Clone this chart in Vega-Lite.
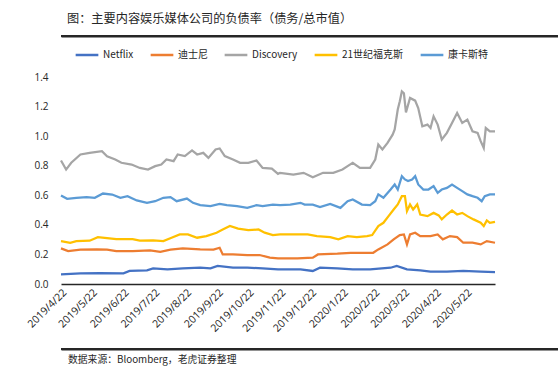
{
  "$schema": "https://vega.github.io/schema/vega-lite/v6.json",
  "background": "white",
  "padding": {"left": 7, "right": 5, "top": 12, "bottom": 5},
  "columns": 1,
  "align": "none",
  "spacing": 5,
  "resolve": {"scale": {"color": "independent"}, "legend": {"color": "independent"}},
  "config": {
    "view": {"stroke": null},
    "font": "Noto Sans CJK SC"
  },
  "datasets": {
    "series": [
      {"date": "2019-04-22", "company": "Netflix", "ratio": 0.065},
      {"date": "2019-05-11", "company": "Netflix", "ratio": 0.072},
      {"date": "2019-05-30", "company": "Netflix", "ratio": 0.074},
      {"date": "2019-06-22", "company": "Netflix", "ratio": 0.072},
      {"date": "2019-06-28", "company": "Netflix", "ratio": 0.088},
      {"date": "2019-07-15", "company": "Netflix", "ratio": 0.092},
      {"date": "2019-07-21", "company": "Netflix", "ratio": 0.106},
      {"date": "2019-08-04", "company": "Netflix", "ratio": 0.099},
      {"date": "2019-08-19", "company": "Netflix", "ratio": 0.106},
      {"date": "2019-09-05", "company": "Netflix", "ratio": 0.110},
      {"date": "2019-09-15", "company": "Netflix", "ratio": 0.106},
      {"date": "2019-09-22", "company": "Netflix", "ratio": 0.122},
      {"date": "2019-10-07", "company": "Netflix", "ratio": 0.110},
      {"date": "2019-10-21", "company": "Netflix", "ratio": 0.110},
      {"date": "2019-11-05", "company": "Netflix", "ratio": 0.106},
      {"date": "2019-11-20", "company": "Netflix", "ratio": 0.099},
      {"date": "2019-12-12", "company": "Netflix", "ratio": 0.099},
      {"date": "2019-12-24", "company": "Netflix", "ratio": 0.088},
      {"date": "2019-12-31", "company": "Netflix", "ratio": 0.110},
      {"date": "2020-01-17", "company": "Netflix", "ratio": 0.106},
      {"date": "2020-02-01", "company": "Netflix", "ratio": 0.099},
      {"date": "2020-02-18", "company": "Netflix", "ratio": 0.099},
      {"date": "2020-03-09", "company": "Netflix", "ratio": 0.110},
      {"date": "2020-03-15", "company": "Netflix", "ratio": 0.122},
      {"date": "2020-03-25", "company": "Netflix", "ratio": 0.099},
      {"date": "2020-04-07", "company": "Netflix", "ratio": 0.092},
      {"date": "2020-04-17", "company": "Netflix", "ratio": 0.083},
      {"date": "2020-05-03", "company": "Netflix", "ratio": 0.083},
      {"date": "2020-05-19", "company": "Netflix", "ratio": 0.088},
      {"date": "2020-06-05", "company": "Netflix", "ratio": 0.083},
      {"date": "2020-06-19", "company": "Netflix", "ratio": 0.081},

      {"date": "2019-04-22", "company": "迪士尼", "ratio": 0.241},
      {"date": "2019-04-29", "company": "迪士尼", "ratio": 0.223},
      {"date": "2019-05-11", "company": "迪士尼", "ratio": 0.232},
      {"date": "2019-05-27", "company": "迪士尼", "ratio": 0.234},
      {"date": "2019-06-06", "company": "迪士尼", "ratio": 0.232},
      {"date": "2019-06-15", "company": "迪士尼", "ratio": 0.223},
      {"date": "2019-07-01", "company": "迪士尼", "ratio": 0.223},
      {"date": "2019-07-18", "company": "迪士尼", "ratio": 0.227},
      {"date": "2019-07-28", "company": "迪士尼", "ratio": 0.218},
      {"date": "2019-08-07", "company": "迪士尼", "ratio": 0.232},
      {"date": "2019-08-19", "company": "迪士尼", "ratio": 0.241},
      {"date": "2019-09-05", "company": "迪士尼", "ratio": 0.234},
      {"date": "2019-09-18", "company": "迪士尼", "ratio": 0.232},
      {"date": "2019-09-24", "company": "迪士尼", "ratio": 0.245},
      {"date": "2019-09-27", "company": "迪士尼", "ratio": 0.200},
      {"date": "2019-10-07", "company": "迪士尼", "ratio": 0.200},
      {"date": "2019-10-21", "company": "迪士尼", "ratio": 0.196},
      {"date": "2019-11-02", "company": "迪士尼", "ratio": 0.196},
      {"date": "2019-11-12", "company": "迪士尼", "ratio": 0.178},
      {"date": "2019-11-20", "company": "迪士尼", "ratio": 0.173},
      {"date": "2019-12-09", "company": "迪士尼", "ratio": 0.173},
      {"date": "2019-12-24", "company": "迪士尼", "ratio": 0.178},
      {"date": "2019-12-29", "company": "迪士尼", "ratio": 0.200},
      {"date": "2020-01-17", "company": "迪士尼", "ratio": 0.205},
      {"date": "2020-01-30", "company": "迪士尼", "ratio": 0.211},
      {"date": "2020-02-15", "company": "迪士尼", "ratio": 0.211},
      {"date": "2020-02-21", "company": "迪士尼", "ratio": 0.211},
      {"date": "2020-02-26", "company": "迪士尼", "ratio": 0.234},
      {"date": "2020-03-06", "company": "迪士尼", "ratio": 0.268},
      {"date": "2020-03-12", "company": "迪士尼", "ratio": 0.302},
      {"date": "2020-03-18", "company": "迪士尼", "ratio": 0.331},
      {"date": "2020-03-22", "company": "迪士尼", "ratio": 0.335},
      {"date": "2020-03-25", "company": "迪士尼", "ratio": 0.268},
      {"date": "2020-03-28", "company": "迪士尼", "ratio": 0.335},
      {"date": "2020-04-02", "company": "迪士尼", "ratio": 0.347},
      {"date": "2020-04-07", "company": "迪士尼", "ratio": 0.324},
      {"date": "2020-04-17", "company": "迪士尼", "ratio": 0.324},
      {"date": "2020-04-24", "company": "迪士尼", "ratio": 0.335},
      {"date": "2020-04-29", "company": "迪士尼", "ratio": 0.302},
      {"date": "2020-05-06", "company": "迪士尼", "ratio": 0.324},
      {"date": "2020-05-13", "company": "迪士尼", "ratio": 0.317},
      {"date": "2020-05-19", "company": "迪士尼", "ratio": 0.279},
      {"date": "2020-05-28", "company": "迪士尼", "ratio": 0.279},
      {"date": "2020-06-05", "company": "迪士尼", "ratio": 0.268},
      {"date": "2020-06-11", "company": "迪士尼", "ratio": 0.290},
      {"date": "2020-06-19", "company": "迪士尼", "ratio": 0.279},

      {"date": "2019-04-22", "company": "Discovery", "ratio": 0.835},
      {"date": "2019-04-27", "company": "Discovery", "ratio": 0.774},
      {"date": "2019-05-02", "company": "Discovery", "ratio": 0.820},
      {"date": "2019-05-11", "company": "Discovery", "ratio": 0.876},
      {"date": "2019-05-20", "company": "Discovery", "ratio": 0.887},
      {"date": "2019-06-01", "company": "Discovery", "ratio": 0.898},
      {"date": "2019-06-06", "company": "Discovery", "ratio": 0.864},
      {"date": "2019-06-14", "company": "Discovery", "ratio": 0.842},
      {"date": "2019-06-20", "company": "Discovery", "ratio": 0.820},
      {"date": "2019-06-30", "company": "Discovery", "ratio": 0.808},
      {"date": "2019-07-08", "company": "Discovery", "ratio": 0.785},
      {"date": "2019-07-16", "company": "Discovery", "ratio": 0.774},
      {"date": "2019-07-23", "company": "Discovery", "ratio": 0.797},
      {"date": "2019-07-29", "company": "Discovery", "ratio": 0.808},
      {"date": "2019-08-03", "company": "Discovery", "ratio": 0.842},
      {"date": "2019-08-10", "company": "Discovery", "ratio": 0.831},
      {"date": "2019-08-14", "company": "Discovery", "ratio": 0.876},
      {"date": "2019-08-21", "company": "Discovery", "ratio": 0.865},
      {"date": "2019-08-28", "company": "Discovery", "ratio": 0.903},
      {"date": "2019-09-02", "company": "Discovery", "ratio": 0.876},
      {"date": "2019-09-08", "company": "Discovery", "ratio": 0.887},
      {"date": "2019-09-13", "company": "Discovery", "ratio": 0.853},
      {"date": "2019-09-20", "company": "Discovery", "ratio": 0.910},
      {"date": "2019-09-24", "company": "Discovery", "ratio": 0.917},
      {"date": "2019-09-29", "company": "Discovery", "ratio": 0.865},
      {"date": "2019-10-07", "company": "Discovery", "ratio": 0.842},
      {"date": "2019-10-14", "company": "Discovery", "ratio": 0.820},
      {"date": "2019-10-22", "company": "Discovery", "ratio": 0.820},
      {"date": "2019-10-30", "company": "Discovery", "ratio": 0.835},
      {"date": "2019-11-05", "company": "Discovery", "ratio": 0.785},
      {"date": "2019-11-14", "company": "Discovery", "ratio": 0.780},
      {"date": "2019-11-20", "company": "Discovery", "ratio": 0.745},
      {"date": "2019-11-22", "company": "Discovery", "ratio": 0.752},
      {"date": "2019-12-05", "company": "Discovery", "ratio": 0.740},
      {"date": "2019-12-15", "company": "Discovery", "ratio": 0.752},
      {"date": "2019-12-24", "company": "Discovery", "ratio": 0.722},
      {"date": "2020-01-03", "company": "Discovery", "ratio": 0.752},
      {"date": "2020-01-13", "company": "Discovery", "ratio": 0.752},
      {"date": "2020-01-22", "company": "Discovery", "ratio": 0.774},
      {"date": "2020-01-27", "company": "Discovery", "ratio": 0.797},
      {"date": "2020-02-01", "company": "Discovery", "ratio": 0.820},
      {"date": "2020-02-08", "company": "Discovery", "ratio": 0.785},
      {"date": "2020-02-18", "company": "Discovery", "ratio": 0.785},
      {"date": "2020-02-23", "company": "Discovery", "ratio": 0.842},
      {"date": "2020-02-26", "company": "Discovery", "ratio": 0.943},
      {"date": "2020-03-01", "company": "Discovery", "ratio": 0.910},
      {"date": "2020-03-06", "company": "Discovery", "ratio": 0.954},
      {"date": "2020-03-11", "company": "Discovery", "ratio": 1.010},
      {"date": "2020-03-13", "company": "Discovery", "ratio": 1.045},
      {"date": "2020-03-16", "company": "Discovery", "ratio": 1.180},
      {"date": "2020-03-18", "company": "Discovery", "ratio": 1.236},
      {"date": "2020-03-20", "company": "Discovery", "ratio": 1.303},
      {"date": "2020-03-22", "company": "Discovery", "ratio": 1.290},
      {"date": "2020-03-24", "company": "Discovery", "ratio": 1.160},
      {"date": "2020-03-28", "company": "Discovery", "ratio": 1.258},
      {"date": "2020-04-02", "company": "Discovery", "ratio": 1.240},
      {"date": "2020-04-05", "company": "Discovery", "ratio": 1.190},
      {"date": "2020-04-09", "company": "Discovery", "ratio": 1.067},
      {"date": "2020-04-14", "company": "Discovery", "ratio": 1.078},
      {"date": "2020-04-17", "company": "Discovery", "ratio": 1.055},
      {"date": "2020-04-20", "company": "Discovery", "ratio": 1.134},
      {"date": "2020-04-24", "company": "Discovery", "ratio": 1.078},
      {"date": "2020-04-28", "company": "Discovery", "ratio": 0.977},
      {"date": "2020-05-03", "company": "Discovery", "ratio": 1.022},
      {"date": "2020-05-08", "company": "Discovery", "ratio": 1.089},
      {"date": "2020-05-13", "company": "Discovery", "ratio": 1.157},
      {"date": "2020-05-18", "company": "Discovery", "ratio": 1.089},
      {"date": "2020-05-23", "company": "Discovery", "ratio": 1.112},
      {"date": "2020-05-28", "company": "Discovery", "ratio": 1.033},
      {"date": "2020-06-02", "company": "Discovery", "ratio": 1.022},
      {"date": "2020-06-05", "company": "Discovery", "ratio": 0.966},
      {"date": "2020-06-08", "company": "Discovery", "ratio": 0.920},
      {"date": "2020-06-10", "company": "Discovery", "ratio": 1.055},
      {"date": "2020-06-14", "company": "Discovery", "ratio": 1.033},
      {"date": "2020-06-19", "company": "Discovery", "ratio": 1.033},

      {"date": "2019-04-22", "company": "21世纪福克斯", "ratio": 0.290},
      {"date": "2019-05-01", "company": "21世纪福克斯", "ratio": 0.279},
      {"date": "2019-05-07", "company": "21世纪福克斯", "ratio": 0.290},
      {"date": "2019-05-20", "company": "21世纪福克斯", "ratio": 0.293},
      {"date": "2019-05-28", "company": "21世纪福克斯", "ratio": 0.317},
      {"date": "2019-06-06", "company": "21世纪福克斯", "ratio": 0.310},
      {"date": "2019-06-15", "company": "21世纪福克斯", "ratio": 0.304},
      {"date": "2019-07-01", "company": "21世纪福克斯", "ratio": 0.304},
      {"date": "2019-07-08", "company": "21世纪福克斯", "ratio": 0.293},
      {"date": "2019-07-21", "company": "21世纪福克斯", "ratio": 0.295},
      {"date": "2019-07-31", "company": "21世纪福克斯", "ratio": 0.290},
      {"date": "2019-08-08", "company": "21世纪福克斯", "ratio": 0.313},
      {"date": "2019-08-16", "company": "21世纪福克斯", "ratio": 0.335},
      {"date": "2019-08-24", "company": "21世纪福克斯", "ratio": 0.335},
      {"date": "2019-09-02", "company": "21世纪福克斯", "ratio": 0.313},
      {"date": "2019-09-11", "company": "21世纪福克斯", "ratio": 0.324},
      {"date": "2019-09-21", "company": "21世纪福克斯", "ratio": 0.347},
      {"date": "2019-09-27", "company": "21世纪福克斯", "ratio": 0.369},
      {"date": "2019-10-04", "company": "21世纪福克斯", "ratio": 0.392},
      {"date": "2019-10-12", "company": "21世纪福克斯", "ratio": 0.375},
      {"date": "2019-10-22", "company": "21世纪福克斯", "ratio": 0.364},
      {"date": "2019-11-01", "company": "21世纪福克斯", "ratio": 0.369},
      {"date": "2019-11-07", "company": "21世纪福克斯", "ratio": 0.347},
      {"date": "2019-11-15", "company": "21世纪福克斯", "ratio": 0.331},
      {"date": "2019-11-22", "company": "21世纪福克斯", "ratio": 0.335},
      {"date": "2019-12-05", "company": "21世纪福克斯", "ratio": 0.335},
      {"date": "2019-12-19", "company": "21世纪福克斯", "ratio": 0.335},
      {"date": "2019-12-28", "company": "21世纪福克斯", "ratio": 0.324},
      {"date": "2020-01-10", "company": "21世纪福克斯", "ratio": 0.317},
      {"date": "2020-01-18", "company": "21世纪福克斯", "ratio": 0.302},
      {"date": "2020-01-27", "company": "21世纪福克斯", "ratio": 0.324},
      {"date": "2020-02-05", "company": "21世纪福克斯", "ratio": 0.317},
      {"date": "2020-02-15", "company": "21世纪福克斯", "ratio": 0.324},
      {"date": "2020-02-20", "company": "21世纪福克斯", "ratio": 0.331},
      {"date": "2020-02-26", "company": "21世纪福克斯", "ratio": 0.392},
      {"date": "2020-03-02", "company": "21世纪福克斯", "ratio": 0.414},
      {"date": "2020-03-07", "company": "21世纪福克斯", "ratio": 0.459},
      {"date": "2020-03-12", "company": "21世纪福克斯", "ratio": 0.504},
      {"date": "2020-03-16", "company": "21世纪福克斯", "ratio": 0.538},
      {"date": "2020-03-20", "company": "21世纪福克斯", "ratio": 0.594},
      {"date": "2020-03-23", "company": "21世纪福克斯", "ratio": 0.594},
      {"date": "2020-03-25", "company": "21世纪福克斯", "ratio": 0.493},
      {"date": "2020-03-28", "company": "21世纪福克斯", "ratio": 0.538},
      {"date": "2020-03-31", "company": "21世纪福克斯", "ratio": 0.504},
      {"date": "2020-04-04", "company": "21世纪福克斯", "ratio": 0.538},
      {"date": "2020-04-07", "company": "21世纪福克斯", "ratio": 0.470},
      {"date": "2020-04-14", "company": "21世纪福克斯", "ratio": 0.459},
      {"date": "2020-04-20", "company": "21世纪福克斯", "ratio": 0.481},
      {"date": "2020-04-25", "company": "21世纪福克斯", "ratio": 0.464},
      {"date": "2020-04-28", "company": "21世纪福克斯", "ratio": 0.437},
      {"date": "2020-05-03", "company": "21世纪福克斯", "ratio": 0.470},
      {"date": "2020-05-08", "company": "21世纪福克斯", "ratio": 0.497},
      {"date": "2020-05-13", "company": "21世纪福克斯", "ratio": 0.470},
      {"date": "2020-05-18", "company": "21世纪福克斯", "ratio": 0.481},
      {"date": "2020-05-23", "company": "21世纪福克斯", "ratio": 0.459},
      {"date": "2020-05-29", "company": "21世纪福克斯", "ratio": 0.437},
      {"date": "2020-06-05", "company": "21世纪福克斯", "ratio": 0.414},
      {"date": "2020-06-08", "company": "21世纪福克斯", "ratio": 0.392},
      {"date": "2020-06-11", "company": "21世纪福克斯", "ratio": 0.430},
      {"date": "2020-06-14", "company": "21世纪福克斯", "ratio": 0.414},
      {"date": "2020-06-19", "company": "21世纪福克斯", "ratio": 0.420},

      {"date": "2019-04-22", "company": "康卡斯特", "ratio": 0.599},
      {"date": "2019-04-28", "company": "康卡斯特", "ratio": 0.576},
      {"date": "2019-05-07", "company": "康卡斯特", "ratio": 0.583},
      {"date": "2019-05-17", "company": "康卡斯特", "ratio": 0.588},
      {"date": "2019-05-25", "company": "康卡斯特", "ratio": 0.583},
      {"date": "2019-06-02", "company": "康卡斯特", "ratio": 0.612},
      {"date": "2019-06-11", "company": "康卡斯特", "ratio": 0.605},
      {"date": "2019-06-19", "company": "康卡斯特", "ratio": 0.583},
      {"date": "2019-06-26", "company": "康卡斯特", "ratio": 0.594},
      {"date": "2019-07-05", "company": "康卡斯特", "ratio": 0.565},
      {"date": "2019-07-15", "company": "康卡斯特", "ratio": 0.549},
      {"date": "2019-07-23", "company": "康卡斯特", "ratio": 0.560},
      {"date": "2019-07-31", "company": "康卡斯特", "ratio": 0.583},
      {"date": "2019-08-07", "company": "康卡斯特", "ratio": 0.588},
      {"date": "2019-08-13", "company": "康卡斯特", "ratio": 0.560},
      {"date": "2019-08-23", "company": "康卡斯特", "ratio": 0.578},
      {"date": "2019-08-29", "company": "康卡斯特", "ratio": 0.549},
      {"date": "2019-09-05", "company": "康卡斯特", "ratio": 0.533},
      {"date": "2019-09-15", "company": "康卡斯特", "ratio": 0.527},
      {"date": "2019-09-24", "company": "康卡斯特", "ratio": 0.542},
      {"date": "2019-10-01", "company": "康卡斯特", "ratio": 0.533},
      {"date": "2019-10-11", "company": "康卡斯特", "ratio": 0.527},
      {"date": "2019-10-21", "company": "康卡斯特", "ratio": 0.515},
      {"date": "2019-10-30", "company": "康卡斯特", "ratio": 0.533},
      {"date": "2019-11-05", "company": "康卡斯特", "ratio": 0.527},
      {"date": "2019-11-15", "company": "康卡斯特", "ratio": 0.537},
      {"date": "2019-11-22", "company": "康卡斯特", "ratio": 0.533},
      {"date": "2019-12-02", "company": "康卡斯特", "ratio": 0.537},
      {"date": "2019-12-12", "company": "康卡斯特", "ratio": 0.549},
      {"date": "2019-12-16", "company": "康卡斯特", "ratio": 0.537},
      {"date": "2019-12-24", "company": "康卡斯特", "ratio": 0.537},
      {"date": "2019-12-31", "company": "康卡斯特", "ratio": 0.520},
      {"date": "2020-01-10", "company": "康卡斯特", "ratio": 0.542},
      {"date": "2020-01-20", "company": "康卡斯特", "ratio": 0.515},
      {"date": "2020-01-27", "company": "康卡斯特", "ratio": 0.560},
      {"date": "2020-02-01", "company": "康卡斯特", "ratio": 0.572},
      {"date": "2020-02-10", "company": "康卡斯特", "ratio": 0.537},
      {"date": "2020-02-18", "company": "康卡斯特", "ratio": 0.533},
      {"date": "2020-02-23", "company": "康卡斯特", "ratio": 0.560},
      {"date": "2020-02-26", "company": "康卡斯特", "ratio": 0.606},
      {"date": "2020-03-02", "company": "康卡斯特", "ratio": 0.583},
      {"date": "2020-03-09", "company": "康卡斯特", "ratio": 0.639},
      {"date": "2020-03-13", "company": "康卡斯特", "ratio": 0.673},
      {"date": "2020-03-16", "company": "康卡斯特", "ratio": 0.639},
      {"date": "2020-03-20", "company": "康卡斯特", "ratio": 0.729},
      {"date": "2020-03-23", "company": "康卡斯特", "ratio": 0.707},
      {"date": "2020-03-26", "company": "康卡斯特", "ratio": 0.696},
      {"date": "2020-03-30", "company": "康卡斯特", "ratio": 0.707},
      {"date": "2020-04-02", "company": "康卡斯特", "ratio": 0.729},
      {"date": "2020-04-05", "company": "康卡斯特", "ratio": 0.673},
      {"date": "2020-04-10", "company": "康卡斯特", "ratio": 0.639},
      {"date": "2020-04-15", "company": "康卡斯特", "ratio": 0.639},
      {"date": "2020-04-20", "company": "康卡斯特", "ratio": 0.662},
      {"date": "2020-04-24", "company": "康卡斯特", "ratio": 0.617},
      {"date": "2020-04-28", "company": "康卡斯特", "ratio": 0.639},
      {"date": "2020-05-03", "company": "康卡斯特", "ratio": 0.650},
      {"date": "2020-05-08", "company": "康卡斯特", "ratio": 0.673},
      {"date": "2020-05-13", "company": "康卡斯特", "ratio": 0.650},
      {"date": "2020-05-18", "company": "康卡斯特", "ratio": 0.628},
      {"date": "2020-05-23", "company": "康卡斯特", "ratio": 0.606},
      {"date": "2020-05-28", "company": "康卡斯特", "ratio": 0.594},
      {"date": "2020-06-02", "company": "康卡斯特", "ratio": 0.583},
      {"date": "2020-06-06", "company": "康卡斯特", "ratio": 0.560},
      {"date": "2020-06-09", "company": "康卡斯特", "ratio": 0.594},
      {"date": "2020-06-14", "company": "康卡斯特", "ratio": 0.606},
      {"date": "2020-06-19", "company": "康卡斯特", "ratio": 0.606}
    ]
  },
  "concat": [
    {
      "title": {"text": "图：主要内容娱乐媒体公司的负债率（债务/总市值）", "anchor": "start", "fontSize": 12.2, "fontWeight": "normal", "color": "#262626", "offset": 1, "dx": 7},
      "width": 545,
      "height": 10,
      "data": {"values": [{"from": 0, "to": 1, "level": 0}]},
      "mark": {"type": "rule", "color": "#262626", "strokeWidth": 2},
      "encoding": {
        "x": {"field": "from", "type": "quantitative", "scale": {"domain": [0, 1]}, "axis": {"orient": "bottom", "domainColor": "#262626", "domainWidth": 2, "labels": false, "ticks": false, "grid": false, "title": null}},
        "x2": {"field": "to"},
        "y": {"field": "level", "type": "quantitative", "scale": {"domain": [0, 1]}, "axis": null}
      }
    },
    {
      "vconcat": [
        {
          "width": 434,
          "height": 207,
          "data": {"name": "series"},
          "mark": {"type": "line", "strokeWidth": 2.25},
          "encoding": {
            "x": {
              "field": "date", "type": "temporal",
              "scale": {"type": "utc", "domain": ["2019-04-22", "2020-06-19"]},
              "axis": {
                "title": null,
                "values": [
                  {"year": 2019, "month": 4, "date": 22, "utc": true},
                  {"year": 2019, "month": 5, "date": 22, "utc": true},
                  {"year": 2019, "month": 6, "date": 22, "utc": true},
                  {"year": 2019, "month": 7, "date": 22, "utc": true},
                  {"year": 2019, "month": 8, "date": 22, "utc": true},
                  {"year": 2019, "month": 9, "date": 22, "utc": true},
                  {"year": 2019, "month": 10, "date": 22, "utc": true},
                  {"year": 2019, "month": 11, "date": 22, "utc": true},
                  {"year": 2019, "month": 12, "date": 22, "utc": true},
                  {"year": 2020, "month": 1, "date": 22, "utc": true},
                  {"year": 2020, "month": 2, "date": 22, "utc": true},
                  {"year": 2020, "month": 3, "date": 22, "utc": true},
                  {"year": 2020, "month": 4, "date": 22, "utc": true},
                  {"year": 2020, "month": 5, "date": 22, "utc": true}
                ],
                "format": "%Y/%-m/%-d",
                "labelAngle": -45,
                "labelFont": "Open Sans",
                "labelFontSize": 10.5,
                "labelColor": "#262626",
                "labelPadding": 3,
                "labelOverlap": false,
                "labelFlush": false,
                "ticks": false,
                "grid": false,
                "domainColor": "#262626",
                "domainWidth": 1.5
              }
            },
            "y": {
              "field": "ratio", "type": "quantitative",
              "scale": {"domain": [0, 1.4]},
              "axis": {
                "title": null,
                "values": [0, 0.2, 0.4, 0.6, 0.8, 1.0, 1.2, 1.4],
                "format": ".1f",
                "domain": false,
                "ticks": false,
                "grid": false,
                "labelFont": "Open Sans",
                "labelFontSize": 10,
                "labelColor": "#262626",
                "labelPadding": 13,
                "minExtent": 54
              }
            },
            "color": {
              "field": "company", "type": "nominal",
              "scale": {
                "domain": ["Netflix", "迪士尼", "Discovery", "21世纪福克斯", "康卡斯特"],
                "range": ["#4472C4", "#ED7D31", "#A5A5A5", "#FFC000", "#5B9BD5"]
              },
              "legend": {
                "orient": "none",
                "legendX": 13,
                "legendY": -35,
                "direction": "horizontal",
                "title": null,
                "symbolType": "stroke",
                "symbolSize": 515,
                "symbolStrokeWidth": 2.5,
                "labelFontSize": 10,
                "labelColor": "#262626",
                "labelOffset": 3,
                "columnPadding": 11,
                "padding": 0
              }
            }
          }
        }
      ],
      "resolve": {"scale": {"color": "independent"}, "legend": {"color": "independent"}}
    },
    {
      "title": {"text": "数据来源：Bloomberg，老虎证券整理", "orient": "bottom", "anchor": "start", "fontSize": 9.8, "fontWeight": "normal", "color": "#262626", "offset": 5, "dx": 8},
      "width": 545,
      "height": 10,
      "data": {"values": [{"from": 0, "to": 1, "level": 0}]},
      "mark": {"type": "rule", "color": "#262626", "strokeWidth": 2},
      "encoding": {
        "x": {"field": "from", "type": "quantitative", "scale": {"domain": [0, 1]}, "axis": {"orient": "bottom", "domainColor": "#262626", "domainWidth": 2, "labels": false, "ticks": false, "grid": false, "title": null}},
        "x2": {"field": "to"},
        "y": {"field": "level", "type": "quantitative", "scale": {"domain": [0, 1]}, "axis": null}
      }
    }
  ]
}
